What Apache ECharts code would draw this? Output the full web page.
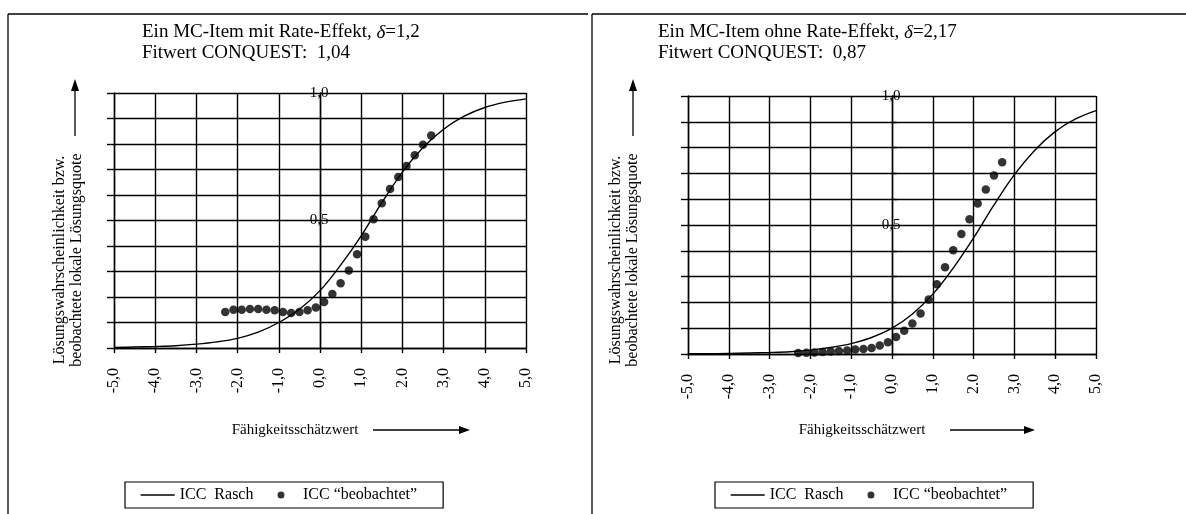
<!DOCTYPE html>
<html>
<head>
<meta charset="utf-8">
<script src="https://cdn.jsdelivr.net/npm/echarts@6/dist/echarts.min.js"></script>
<style>
html, body { margin: 0; padding: 0; background: #fff; }
#main { width: 1186px; height: 514px; }
</style>
</head>
<body>
<div id="main"></div>
<script>
// tick labels (the original prints "2.0" with a period)
var xTickLabels = ['-5,0', '-4,0', '-3,0', '-2,0', '-1,0', '0,0', '1,0', '2.0', '3,0', '4,0', '5,0'];
var yLabelValues = [0.5, 1.0];
var yLabelTexts = ['0,5', '1,0'];

// ICC Rasch curves, every 0.5
var curveTheta = [-5, -4.5, -4, -3.5, -3, -2.5, -2, -1.5, -1, -0.5, 0, 0.5, 1, 1.5, 2, 2.5, 3, 3.5, 4, 4.5, 5];
var raschLeft = [0.002, 0.004, 0.006, 0.009, 0.015, 0.024, 0.038, 0.062, 0.10, 0.152, 0.225, 0.325, 0.44, 0.57, 0.69, 0.786, 0.858, 0.909, 0.943, 0.964, 0.977];
var raschRight = [0.001, 0.001, 0.002, 0.004, 0.006, 0.009, 0.015, 0.025, 0.040, 0.064, 0.10, 0.155, 0.232, 0.333, 0.45, 0.578, 0.695, 0.79, 0.862, 0.911, 0.943];

// observed local solution rates
var obsTheta = [-2.3, -2.1, -1.9, -1.7, -1.5, -1.3, -1.1, -0.9, -0.7, -0.5, -0.3, -0.1, 0.1, 0.3, 0.5, 0.7, 0.9, 1.1, 1.3, 1.5, 1.7, 1.9, 2.1, 2.3, 2.5, 2.7];
var obsLeft = [0.141, 0.150, 0.150, 0.153, 0.153, 0.150, 0.148, 0.141, 0.137, 0.141, 0.148, 0.159, 0.180, 0.212, 0.254, 0.304, 0.368, 0.436, 0.505, 0.568, 0.624, 0.671, 0.714, 0.756, 0.797, 0.833];
var obsRight = [0.004, 0.005, 0.006, 0.008, 0.010, 0.012, 0.014, 0.017, 0.019, 0.023, 0.033, 0.046, 0.066, 0.090, 0.118, 0.157, 0.211, 0.270, 0.336, 0.402, 0.465, 0.522, 0.583, 0.638, 0.692, 0.743];

var raschName = 'ICC  Rasch';
var obsName = 'ICC \u201cbeobachtet\u201d';
var serif = '"Liberation Serif", "Times New Roman", serif';

function pairs(xs, ys) {
    var out = [];
    for (var i = 0; i < xs.length; i++) {
        out.push([xs[i], ys[i]]);
    }
    return out;
}

var myChart = echarts.init(document.getElementById('main'));

var panels = [
    {grid: {left: 114, top: 93, width: 412, height: 255}, title: 'Ein MC-Item mit Rate-Effekt, {i|\u03b4}=1,2\nFitwert CONQUEST:  1,04',
        titleLeft: 137, curve: raschLeft, obs: obsLeft, legendLeft: 125, frameX: 8, frameEnd: 588,
        yNameX: 68, arrowY: 75, xNameX: 295, xArrow: [373, 470], zeroTicks: false},
    {grid: {left: 688, top: 96, width: 408, height: 258}, title: 'Ein MC-Item ohne Rate-Effekt, {i|\u03b4}=2,17\nFitwert CONQUEST:  0,87',
        titleLeft: 653, curve: raschRight, obs: obsRight, legendLeft: 715, frameX: 592, frameEnd: 1186,
        yNameX: 624, arrowY: 633, xNameX: 862, xArrow: [950, 1035], zeroTicks: true}
];

var grids = [], xAxes = [], yAxes = [], series = [], legends = [], titles = [], graphics = [];
var black = '#000';

panels.forEach(function (p, i) {
    grids.push(p.grid);
    titles.push({
        text: p.title,
        left: p.titleLeft,
        top: 17,
        textStyle: {
            fontFamily: serif, fontSize: 19, fontWeight: 'normal', color: black, lineHeight: 21,
            rich: {i: {fontFamily: serif, fontSize: 19, fontStyle: 'italic', color: black, lineHeight: 21}}
        }
    });
    xAxes.push({
        gridIndex: i,
        type: 'value',
        min: -5,
        max: 5,
        interval: 1,
        position: 'bottom',
        axisLine: {onZero: false, lineStyle: {color: black, width: 1.4}},
        axisTick: {length: 5, lineStyle: {color: black, width: 1.4}},
        axisLabel: {
            rotate: 90,
            margin: 20,
            color: black,
            fontFamily: serif,
            fontSize: 16,
            formatter: function (v) { return xTickLabels[Math.round(v) + 5]; }
        },
        splitLine: {show: true, lineStyle: {color: black, width: 1.4}}
    });
    // left edge axis with outward ticks and the horizontal grid
    yAxes.push({
        gridIndex: i,
        type: 'value',
        min: 0,
        max: 1,
        interval: 0.1,
        position: 'left',
        axisLine: {show: true, onZero: false, lineStyle: {color: black, width: 1.4}},
        axisTick: {length: 7, lineStyle: {color: black, width: 1.4}},
        axisLabel: {show: false},
        splitLine: {show: true, lineStyle: {color: black, width: 1.4}}
    });
    // axis moved in to x = 0, carrying the 0,5 and 1,0 labels
    yAxes.push({
        gridIndex: i,
        type: 'value',
        min: 0,
        max: 1,
        interval: 0.1,
        position: 'left',
        offset: -p.grid.width / 2,
        axisLine: {show: true, onZero: false, lineStyle: {color: black, width: 1.4}},
        axisTick: {show: p.zeroTicks, inside: true, length: 5, lineStyle: {color: black, width: 1.4}},
        axisLabel: {
            margin: 1,
            align: 'center',
            color: black,
            fontFamily: serif,
            fontSize: 15,
            formatter: function (v) {
                for (var k = 0; k < yLabelValues.length; k++) {
                    if (Math.abs(v - yLabelValues[k]) < 1e-6) return yLabelTexts[k];
                }
                return '';
            }
        },
        splitLine: {show: false}
    });
    series.push({
        type: 'line',
        name: raschName,
        xAxisIndex: i,
        yAxisIndex: 2 * i,
        data: pairs(curveTheta, p.curve),
        smooth: 0.35,
        symbol: 'none',
        lineStyle: {color: black, width: 1.4},
        itemStyle: {color: black},
        z: 3
    });
    series.push({
        type: 'scatter',
        name: obsName,
        xAxisIndex: i,
        yAxisIndex: 2 * i,
        data: pairs(obsTheta, p.obs),
        symbolSize: 8.5,
        itemStyle: {color: black},
        z: 4
    });
    legends.push({
        data: [
            {name: raschName, itemStyle: {color: 'rgba(0,0,0,0)', borderWidth: 0}, lineStyle: {color: black, width: 1.4}},
            {name: obsName}
        ],
        left: p.legendLeft,
        top: 482,
        orient: 'horizontal',
        itemWidth: 34,
        itemHeight: 7,
        itemGap: 24,
        padding: [5, 26, 5, 15],
        borderColor: black,
        borderWidth: 1.2,
        selectedMode: false,
        textStyle: {fontFamily: serif, fontSize: 16, color: black}
    });

    // panel frame (left and top edges)
    graphics.push({type: 'line', shape: {x1: p.frameX, y1: 14, x2: p.frameX, y2: 514}, style: {stroke: black, lineWidth: 1.3}});
    graphics.push({type: 'line', shape: {x1: p.frameX, y1: 14, x2: p.frameEnd, y2: 14}, style: {stroke: black, lineWidth: 1.3}});
    // y axis name with upward arrow
    graphics.push({
        type: 'text',
        x: p.yNameX,
        y: 260,
        rotation: Math.PI / 2,
        style: {
            text: 'L\u00f6sungswahrscheinlichkeit bzw.\nbeobachtete lokale L\u00f6sungsquote',
            font: '16px ' + serif,
            fill: black,
            align: 'center',
            verticalAlign: 'middle',
            lineHeight: 17
        }
    });
    graphics.push({type: 'line', shape: {x1: p.arrowY, y1: 136, x2: p.arrowY, y2: 90}, style: {stroke: black, lineWidth: 1.3}});
    graphics.push({type: 'polygon', shape: {points: [[p.arrowY, 79], [p.arrowY - 4, 91], [p.arrowY + 4, 91]]}, style: {fill: black}});
    // x axis name with arrow to the right
    graphics.push({
        type: 'text',
        x: p.xNameX,
        y: 430,
        style: {text: 'F\u00e4higkeitssch\u00e4tzwert', font: '15px ' + serif, fill: black, align: 'center', verticalAlign: 'middle'}
    });
    graphics.push({type: 'line', shape: {x1: p.xArrow[0], y1: 430, x2: p.xArrow[1] - 10, y2: 430}, style: {stroke: black, lineWidth: 1.3}});
    graphics.push({type: 'polygon', shape: {points: [[p.xArrow[1], 430], [p.xArrow[1] - 11, 426], [p.xArrow[1] - 11, 434]]}, style: {fill: black}});
});

var option = {
    animation: false,
    backgroundColor: '#fff',
    title: titles,
    grid: grids,
    xAxis: xAxes,
    yAxis: yAxes,
    legend: legends,
    series: series,
    graphic: graphics
};
myChart.setOption(option);
</script>
</body>
</html>
